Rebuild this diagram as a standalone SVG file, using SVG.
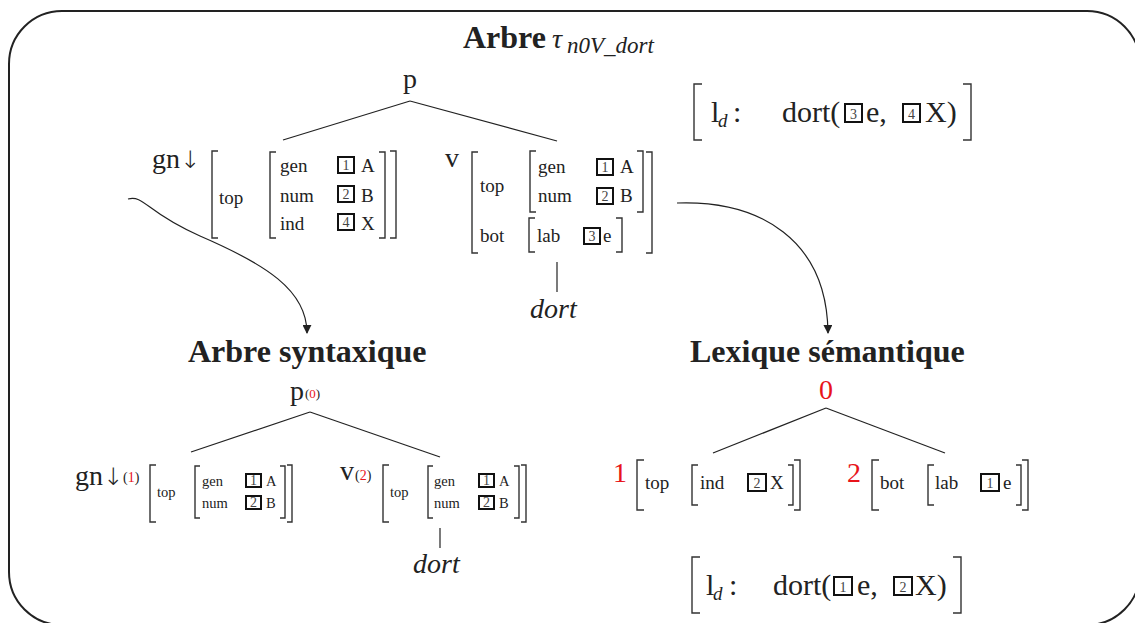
<svg xmlns="http://www.w3.org/2000/svg" width="1135" height="623" viewBox="0 0 1135 623">
<defs>
<style>
text{font-family:"Liberation Serif","Times New Roman",serif;fill:#222}
.b{font-weight:bold}
.i{font-style:italic}
.big{font-size:28px}
.mid{font-size:19px}
.sm{font-size:14.5px}
.lx{font-size:30px}
.tt{font-size:32px}
.red{fill:#e8141b}
.arr{font-family:"DejaVu Sans",sans-serif;font-weight:200;font-size:24px}
.brk{fill:none;stroke:#333;stroke-width:1.4}
.ln{fill:none;stroke:#222;stroke-width:1.2}
.bx{fill:none;stroke:#111;stroke-width:2}
.num{font-size:14px;fill:#444;text-anchor:middle}
</style>
<marker id="ah" viewBox="0 0 10 10" refX="9" refY="5" markerWidth="9" markerHeight="9" markerUnits="userSpaceOnUse" orient="auto">
<path d="M0,0 L10,5 L0,10 z" fill="#222"/>
</marker>
</defs>
<rect x="9" y="11" width="1131" height="614" rx="53" ry="53" fill="#fff" stroke="#222" stroke-width="2"/>

<g id="title">
<text x="463" y="48" class="b tt">Arbre</text>
<text x="552" y="48" class="i" font-size="28">τ</text>
<text x="567" y="53" class="i" font-size="23">n0V_dort</text>
</g>

<g id="top-p"><text x="403" y="88" class="big">p</text></g>

<g id="top-gn">
<text x="152" y="168" class="big">gn<tspan class="arr">↓</tspan></text>
<path class="brk" d="M218,151 H212 V238 H218"/>
<text x="219" y="204" class="mid">top</text>
<path class="brk" d="M276,152 H270 V238 H276"/>
<text x="280" y="172" class="mid">gen</text>
<text x="280" y="202" class="mid">num</text>
<text x="280" y="230" class="mid">ind</text>
<rect class="bx" x="338" y="157" width="16" height="16"/><text x="346" y="170" class="num">1</text>
<rect class="bx" x="338" y="186" width="16" height="16"/><text x="346" y="199" class="num">2</text>
<rect class="bx" x="338" y="214" width="16" height="16"/><text x="346" y="227" class="num">4</text>
<text x="361" y="172" class="mid">A</text>
<text x="361" y="202" class="mid">B</text>
<text x="361" y="230" class="mid">X</text>
<path class="brk" d="M379,152 H385 V238 H379"/>
<path class="brk" d="M390,151 H396 V238 H390"/>
</g>

<g id="top-v">
<text x="445" y="167" class="big">v</text>
<path class="brk" d="M478,152 H472 V253 H478"/>
<text x="480" y="192" class="mid">top</text>
<path class="brk" d="M536,151 H530 V212 H536"/>
<text x="538" y="173" class="mid">gen</text>
<text x="538" y="202" class="mid">num</text>
<rect class="bx" x="597" y="159" width="16" height="16"/><text x="605" y="172" class="num">1</text>
<rect class="bx" x="597" y="188" width="16" height="16"/><text x="605" y="201" class="num">2</text>
<text x="620" y="173" class="mid">A</text>
<text x="620" y="202" class="mid">B</text>
<path class="brk" d="M637,151 H643 V212 H637"/>
<text x="480" y="242" class="mid">bot</text>
<path class="brk" d="M535,218 H529 V252 H535"/>
<text x="537" y="242" class="mid">lab</text>
<rect class="bx" x="584" y="228" width="16" height="16"/><text x="592" y="241" class="num">3</text>
<text x="603" y="242" class="mid">e</text>
<path class="brk" d="M616,218 H622 V252 H616"/>
<path class="brk" d="M646,152 H652 V253 H646"/>
</g>

<g id="top-anchor">
<text x="530" y="318" class="big i">dort</text>
</g>

<g id="top-lex">
<path class="brk" d="M702,84 H694 V140 H702"/>
<text x="711" y="122" class="lx">l</text>
<text x="718" y="127" class="i mid">d</text>
<text x="733" y="122" class="lx">:</text>
<text x="782" y="122" class="lx">dort(</text>
<rect class="bx" x="845" y="104" width="17" height="18"/><text x="853.5" y="119" class="num" font-size="16">3</text>
<text x="866" y="122" class="lx">e,</text>
<rect class="bx" x="903" y="104" width="17" height="18"/><text x="911.5" y="119" class="num" font-size="16">4</text>
<text x="925" y="122" class="lx">X)</text>
<path class="brk" d="M963,84 H971 V140 H963"/>
</g>

<g id="title-syn"><text x="188" y="362" class="b tt">Arbre syntaxique</text></g>
<g id="title-lex"><text x="690" y="362" class="b tt">Lexique sémantique</text></g>

<g id="bot-p">
<text x="290" y="400" class="big">p</text>
<text x="305" y="398" font-size="13">(<tspan class="red">0</tspan>)</text>
</g>

<g id="bot-gn">
<text x="75" y="485" class="big">gn<tspan class="arr">↓</tspan><tspan font-size="14" dy="-3">(</tspan><tspan font-size="14" class="red">1</tspan><tspan font-size="14">)</tspan></text>
<path class="brk" d="M156,465 H150 V522 H156"/>
<text x="157" y="497" class="sm">top</text>
<path class="brk" d="M200,466 H195 V518 H200"/>
<text x="202" y="486" class="sm">gen</text>
<text x="202" y="508" class="sm">num</text>
<rect class="bx" x="246" y="474" width="15" height="13"/><text x="253.5" y="485" class="num" font-size="12">1</text>
<rect class="bx" x="246" y="496" width="15" height="13"/><text x="253.5" y="507" class="num" font-size="12">2</text>
<text x="266" y="486" class="sm">A</text>
<text x="266" y="508" class="sm">B</text>
<path class="brk" d="M280,466 H285 V518 H280"/>
<path class="brk" d="M287,465 H292 V522 H287"/>
</g>

<g id="bot-v">
<text x="340" y="480" class="big">v</text>
<text x="355" y="480" font-size="14">(<tspan class="red">2</tspan>)</text>
<path class="brk" d="M389,465 H383 V522 H389"/>
<text x="390" y="497" class="sm">top</text>
<path class="brk" d="M433,466 H428 V518 H433"/>
<text x="434" y="486" class="sm">gen</text>
<text x="434" y="508" class="sm">num</text>
<rect class="bx" x="479" y="474" width="15" height="13"/><text x="486.5" y="485" class="num" font-size="12">1</text>
<rect class="bx" x="479" y="496" width="15" height="13"/><text x="486.5" y="507" class="num" font-size="12">2</text>
<text x="499" y="486" class="sm">A</text>
<text x="499" y="508" class="sm">B</text>
<path class="brk" d="M514,466 H519 V518 H514"/>
<path class="brk" d="M521,465 H526 V522 H521"/>
</g>

<g id="bot-anchor"><text x="413" y="573" class="big i">dort</text></g>

<g id="sem-0"><text x="819" y="399" class="big red">0</text></g>

<g id="sem-1">
<text x="613" y="482" class="big red">1</text>
<path class="brk" d="M644,460 H637 V510 H644"/>
<text x="645" y="489" class="mid">top</text>
<path class="brk" d="M698,465 H692 V505 H698"/>
<text x="700" y="489" class="mid">ind</text>
<rect class="bx" x="748" y="474" width="18" height="17"/><text x="757" y="488" class="num" font-size="14">2</text>
<text x="770" y="489" class="mid">X</text>
<path class="brk" d="M788,465 H793 V505 H788"/>
<path class="brk" d="M794,460 H800 V510 H794"/>
</g>

<g id="sem-2">
<text x="847" y="482" class="big red">2</text>
<path class="brk" d="M879,460 H872 V510 H879"/>
<text x="880" y="489" class="mid">bot</text>
<path class="brk" d="M934,465 H928 V505 H934"/>
<text x="935" y="489" class="mid">lab</text>
<rect class="bx" x="981" y="474" width="18" height="17"/><text x="990" y="488" class="num" font-size="14">1</text>
<text x="1003" y="489" class="mid">e</text>
<path class="brk" d="M1016,465 H1021 V505 H1016"/>
<path class="brk" d="M1022,460 H1028 V510 H1022"/>
</g>

<g id="bot-lex">
<path class="brk" d="M700,557 H692 V613 H700"/>
<text x="706" y="595" class="lx">l</text>
<text x="713" y="600" class="i mid">d</text>
<text x="729" y="595" class="lx">:</text>
<text x="773" y="595" class="lx">dort(</text>
<rect class="bx" x="834" y="577" width="18" height="18"/><text x="843" y="592" class="num" font-size="16">1</text>
<text x="857" y="595" class="lx">e,</text>
<rect class="bx" x="894" y="577" width="18" height="18"/><text x="903" y="592" class="num" font-size="16">2</text>
<text x="915" y="595" class="lx">X)</text>
<path class="brk" d="M953,557 H961 V613 H953"/>
</g>

<g id="connectors">
<path class="ln" d="M410,101 L283,140"/>
<path class="ln" d="M410,101 L557,141"/>
<path class="ln" d="M557,262 V292"/>
<path class="ln" d="M310,412 L191,452"/>
<path class="ln" d="M310,412 L440,457"/>
<path class="ln" d="M440,528 V548"/>
<path class="ln" d="M826,408 L713,453"/>
<path class="ln" d="M826,408 L945,453"/>
<path class="ln" d="M128,199 C145,195 145,212 200,236 C265,264 307,290 307,333" marker-end="url(#ah)"/>
<path class="ln" d="M677,203 C760,200 827,240 828,333" marker-end="url(#ah)"/>
</g>
</svg>
